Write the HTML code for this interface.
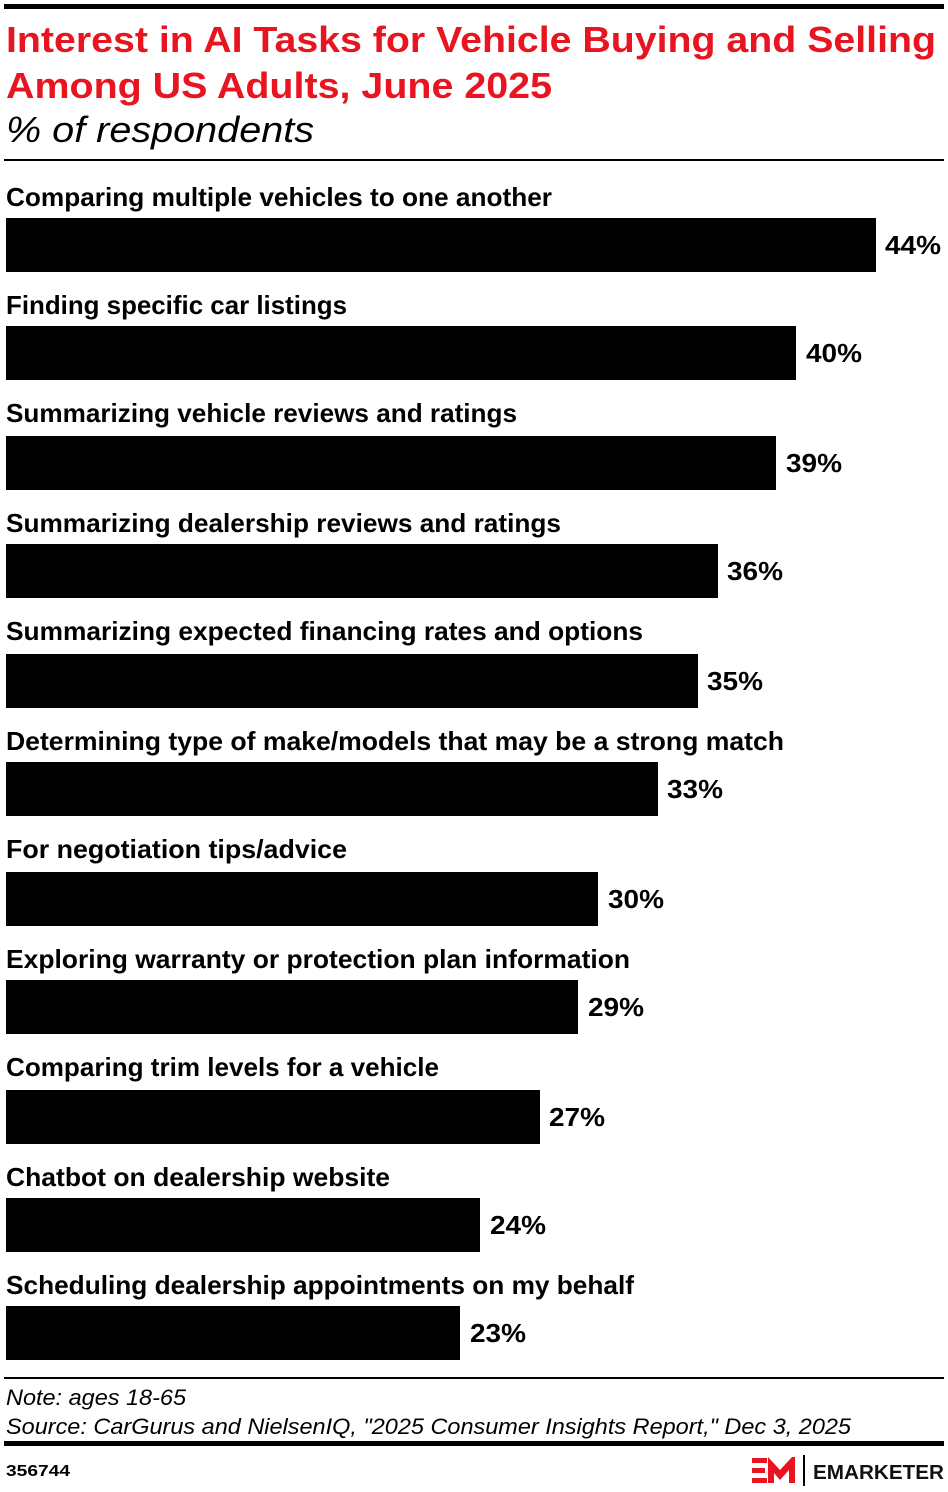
<!DOCTYPE html>
<html><head><meta charset="utf-8"><style>
html,body{margin:0;padding:0;background:#fff;}
svg{display:block;font-family:"Liberation Sans",sans-serif;}
</style></head><body>
<svg width="948" height="1492" viewBox="0 0 948 1492" xmlns="http://www.w3.org/2000/svg">
<rect x="4" y="4" width="940" height="5" fill="#000"/>
<text x="6" y="52" font-size="36" font-weight="bold" fill="#e8141f" textLength="930" lengthAdjust="spacingAndGlyphs">Interest in AI Tasks for Vehicle Buying and Selling</text>
<text x="6" y="98" font-size="36" font-weight="bold" fill="#e8141f" textLength="546" lengthAdjust="spacingAndGlyphs">Among US Adults, June 2025</text>
<text x="6" y="142" font-size="36" font-style="italic" fill="#000" textLength="308" lengthAdjust="spacingAndGlyphs">% of respondents</text>
<rect x="4" y="159" width="940" height="2" fill="#000"/>
<g font-size="26" font-weight="bold" fill="#000">
<text x="6" y="206" textLength="546" lengthAdjust="spacingAndGlyphs">Comparing multiple vehicles to one another</text>
<rect x="6" y="218" width="870" height="54"/><text x="885" y="254" textLength="56" lengthAdjust="spacingAndGlyphs">44%</text>
<text x="6" y="314" textLength="341" lengthAdjust="spacingAndGlyphs">Finding specific car listings</text>
<rect x="6" y="326" width="790" height="54"/><text x="806" y="362" textLength="56" lengthAdjust="spacingAndGlyphs">40%</text>
<text x="6" y="422" textLength="511" lengthAdjust="spacingAndGlyphs">Summarizing vehicle reviews and ratings</text>
<rect x="6" y="436" width="770" height="54"/><text x="786" y="472" textLength="56" lengthAdjust="spacingAndGlyphs">39%</text>
<text x="6" y="532" textLength="555" lengthAdjust="spacingAndGlyphs">Summarizing dealership reviews and ratings</text>
<rect x="6" y="544" width="712" height="54"/><text x="727" y="580" textLength="56" lengthAdjust="spacingAndGlyphs">36%</text>
<text x="6" y="640" textLength="637" lengthAdjust="spacingAndGlyphs">Summarizing expected financing rates and options</text>
<rect x="6" y="654" width="692" height="54"/><text x="707" y="690" textLength="56" lengthAdjust="spacingAndGlyphs">35%</text>
<text x="6" y="750" textLength="778" lengthAdjust="spacingAndGlyphs">Determining type of make/models that may be a strong match</text>
<rect x="6" y="762" width="652" height="54"/><text x="667" y="798" textLength="56" lengthAdjust="spacingAndGlyphs">33%</text>
<text x="6" y="858" textLength="341" lengthAdjust="spacingAndGlyphs">For negotiation tips/advice</text>
<rect x="6" y="872" width="592" height="54"/><text x="608" y="908" textLength="56" lengthAdjust="spacingAndGlyphs">30%</text>
<text x="6" y="968" textLength="624" lengthAdjust="spacingAndGlyphs">Exploring warranty or protection plan information</text>
<rect x="6" y="980" width="572" height="54"/><text x="588" y="1016" textLength="56" lengthAdjust="spacingAndGlyphs">29%</text>
<text x="6" y="1076" textLength="433" lengthAdjust="spacingAndGlyphs">Comparing trim levels for a vehicle</text>
<rect x="6" y="1090" width="534" height="54"/><text x="549" y="1126" textLength="56" lengthAdjust="spacingAndGlyphs">27%</text>
<text x="6" y="1186" textLength="384" lengthAdjust="spacingAndGlyphs">Chatbot on dealership website</text>
<rect x="6" y="1198" width="474" height="54"/><text x="490" y="1234" textLength="56" lengthAdjust="spacingAndGlyphs">24%</text>
<text x="6" y="1294" textLength="628" lengthAdjust="spacingAndGlyphs">Scheduling dealership appointments on my behalf</text>
<rect x="6" y="1306" width="454" height="54"/><text x="470" y="1342" textLength="56" lengthAdjust="spacingAndGlyphs">23%</text>
</g>
<rect x="4" y="1377" width="940" height="2" fill="#000"/>
<text x="6" y="1405" font-size="22" font-style="italic" textLength="180" lengthAdjust="spacingAndGlyphs">Note: ages 18-65</text>
<text x="6" y="1434" font-size="22" font-style="italic" textLength="845" lengthAdjust="spacingAndGlyphs">Source: CarGurus and NielsenIQ, "2025 Consumer Insights Report," Dec 3, 2025</text>
<rect x="4" y="1441" width="940" height="5" fill="#000"/>
<text x="6" y="1476" font-size="16" font-weight="bold" textLength="64" lengthAdjust="spacingAndGlyphs">356744</text>
<g fill="#e8141f">
<rect x="752" y="1458" width="15" height="5"/>
<rect x="752" y="1468" width="13" height="5"/>
<rect x="752" y="1478" width="15" height="5"/>
<polygon points="768,1483 768,1457 780,1470 792,1457 795,1457 795,1483 789,1483 789,1470 780,1480 774,1473 774,1483"/>
</g>
<rect x="803" y="1455" width="2" height="31" fill="#000"/>
<text x="813" y="1479" font-size="20" font-weight="bold" fill="#111" textLength="131" lengthAdjust="spacingAndGlyphs">EMARKETER</text>
</svg>
</body></html>
